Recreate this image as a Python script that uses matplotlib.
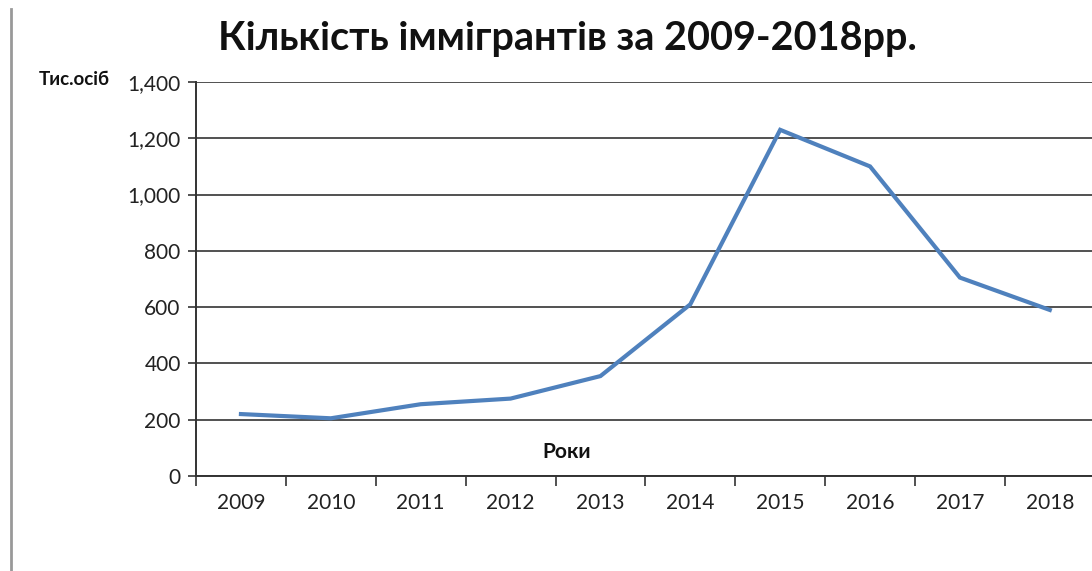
import numpy as np
import matplotlib
matplotlib.use('Agg')
import matplotlib.pyplot as plt
from matplotlib.lines import Line2D

# immigrants per year, thousands
years = ['2009', '2010', '2011', '2012', '2013', '2014', '2015', '2016', '2017', '2018']
immigrants = [220, 205, 255, 275, 355, 610, 1230, 1100, 705, 590]
yticks = [0, 200, 400, 600, 800, 1000, 1200, 1400]

plt.rcParams['font.family'] = ['Lato', 'DejaVu Sans']

fig = plt.figure(figsize=(10.92, 5.71), dpi=100)
ax = fig.add_axes([0.1795, 0.1664, 0.823, 0.69])

x = np.arange(len(years))
ax.plot(x, immigrants, color='#4F81BD', linewidth=3.0, solid_joinstyle='miter')

ax.set_ylim(0, 1400)
ax.set_xlim(-0.5, len(years) - 0.5)

# horizontal gridlines
ax.set_yticks(yticks)
ax.set_yticklabels(['{:,}'.format(v) for v in yticks], fontsize=15, color='#222222')
ax.yaxis.grid(True, color='#333333', linewidth=1.2)
ax.set_axisbelow(True)
ax.tick_params(axis='y', direction='out', length=6, width=1.2, color='#333333', pad=5)

# ticks between categories, labels at categories
ax.set_xticks(np.arange(-0.5, len(years), 1.0))
ax.set_xticklabels([])
ax.set_xticks(x, minor=True)
ax.set_xticklabels(years, minor=True, fontsize=15, color='#222222')
ax.tick_params(axis='x', which='major', direction='out', length=7, width=1.2, color='#333333')
ax.tick_params(axis='x', which='minor', length=0, pad=12)

for s in ['top', 'right']:
    ax.spines[s].set_visible(False)
for s in ['left', 'bottom']:
    ax.spines[s].set_color('#333333')
    ax.spines[s].set_linewidth(1.4)

fig.text(0.52, 0.933, 'Кількість іммігрантів за 2009-2018рр.', ha='center', va='center',
         fontsize=28.5, fontweight='bold', color='#111111')
fig.text(0.068, 0.86, 'Тис.осіб', ha='center', va='center', fontsize=13.5, fontweight='bold',
         color='#111111')
fig.text(0.519, 0.208, 'Роки', ha='center', va='center', fontsize=15, fontweight='bold',
         color='#111111')

# page border on the left
fig.add_artist(Line2D([0.0105, 0.0105], [0.0, 0.985], transform=fig.transFigure,
                      color='#999999', linewidth=2))

fig.savefig('out.png', dpi=100)
